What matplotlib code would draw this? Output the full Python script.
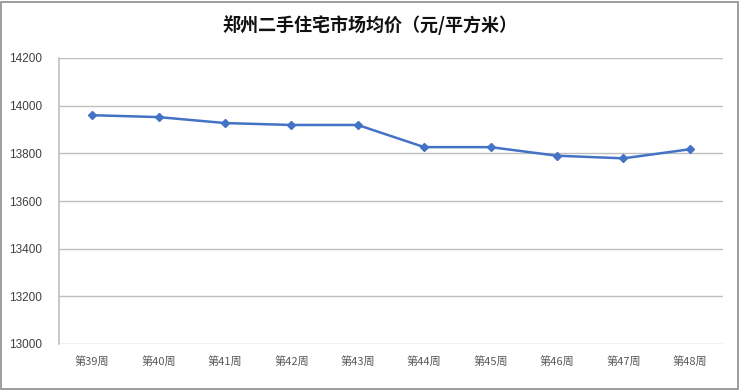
import matplotlib
matplotlib.use("Agg")
import matplotlib.pyplot as plt
from matplotlib.patches import Rectangle

plt.rcParams['font.family'] = ['Noto Sans CJK SC', 'DejaVu Sans']

weeks  = ["第39周", "第40周", "第41周", "第42周", "第43周",
          "第44周", "第45周", "第46周", "第47周", "第48周"]
prices = [13960, 13952, 13927, 13919, 13919, 13826, 13826, 13790, 13779, 13817]
yticks = [13000, 13200, 13400, 13600, 13800, 14000, 14200]

fig = plt.figure(figsize=(7.4, 3.9), dpi=100)
ax = fig.add_axes([59/740, 1 - 344/390, 664/740, 286/390])

x = list(range(len(weeks)))
ax.plot(x, prices, color="#4472C4", lw=1.8, marker="D", ms=4.5, zorder=3)

ax.set_xlim(-0.5, len(weeks) - 0.5)
ax.set_ylim(13000, 14200)
ax.set_yticks(yticks)
ax.set_yticklabels([str(v) for v in yticks], fontsize=8.5, color="#404040",
                   family=['Liberation Sans', 'DejaVu Sans'])
ax.set_xticks(x)
ax.set_xticklabels(weeks, fontsize=8, color="#595959")
ax.tick_params(axis='both', length=0)
ax.tick_params(axis='x', pad=9)
ax.tick_params(axis='y', pad=12)

ax.grid(axis='y', color="#BFBFBF", lw=1)
ax.set_axisbelow(True)
for s in ["top", "right", "bottom"]:
    ax.spines[s].set_visible(False)
ax.spines["left"].set_color("#BFBFBF")
ax.spines["left"].set_linewidth(1.2)

fig.text(0.5, 1 - 25/390, "郑州二手住宅市场均价（元/平方米）", ha="center", va="center",
         fontsize=13, fontweight="bold", color="#111111")

fig.patches.append(Rectangle((0.002, 0.003), 0.995, 0.993, transform=fig.transFigure,
                             fill=False, edgecolor="#8C8C8C", lw=1.2))

fig.savefig("out.png", dpi=100)
